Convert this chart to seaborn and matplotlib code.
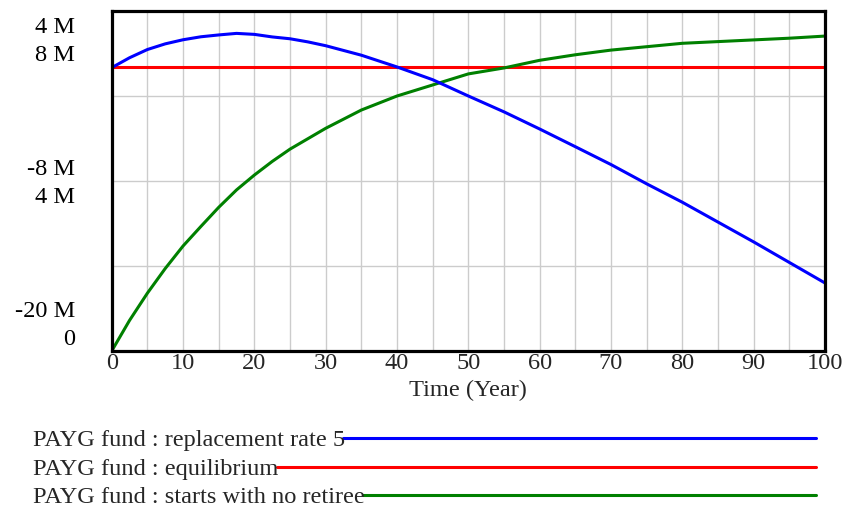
import numpy as np
import pandas as pd
import matplotlib
matplotlib.use("Agg")
import matplotlib.pyplot as plt
import seaborn as sns
from matplotlib.transforms import blended_transform_factory, offset_copy
from matplotlib.lines import Line2D

# ---------------- data ----------------
years_blue = [0, 2.5, 5, 7.5, 10, 12.5, 15, 17.5, 20, 22.5, 25, 27.5, 30, 35,
              40, 45, 50, 55, 60, 65, 70, 75, 80, 85, 90, 95, 100]
fund_replacement = [0.0, 0.70, 1.28, 1.68, 1.97, 2.18, 2.31, 2.42, 2.35, 2.17,
                    2.04, 1.82, 1.55, 0.88, 0.05, -0.85, -2.0, -3.12, -4.33,
                    -5.58, -6.84, -8.2, -9.5, -10.9, -12.3, -13.75, -15.2]   # M, scale 1

years_red = [0, 100]
fund_equilibrium = [6.68, 6.68]                                               # M, scale 2

years_green = [0, 2.5, 5, 7.5, 10, 12.5, 15, 17.5, 20, 22.5, 25, 30, 35, 40,
               45, 50, 55, 60, 65, 70, 75, 80, 85, 90, 95, 100]
fund_no_retiree = [0.0, 0.72, 1.36, 1.94, 2.47, 2.93, 3.38, 3.79, 4.14, 4.46,
                   4.75, 5.24, 5.67, 6.0, 6.26, 6.52, 6.66, 6.84, 6.97, 7.08,
                   7.16, 7.24, 7.28, 7.32, 7.36, 7.41]                        # M, scale 2

scale1_ticks = [4, -8, -20]
scale1_labels = ["4 M", "-8 M", "-20 M"]
scale2_ticks = [8, 4, 0]
scale2_labels = ["8 M", "4 M", "0"]
x_ticks = list(range(0, 101, 10))
x_label = "Time (Year)"
legend_labels = ["PAYG fund : replacement rate 5",
                 "PAYG fund : equilibrium",
                 "PAYG fund : starts with no retiree"]
colors = ["#0000ff", "#ff0000", "#008000"]

# ---------------- style ----------------
sns.set_style("white")
plt.rcParams["font.family"] = ["Liberation Serif", "DejaVu Serif"]
FS = 17.6

W, H = 844, 508
fig = plt.figure(figsize=(W / 100, H / 100), dpi=100)
L, R, T, B = 111.7, 825.0, 11.0, 351.0
rect = [L / W, 1 - B / H, (R - L) / W, (B - T) / H]

ax_g = fig.add_axes(rect)          # scale 2 (red / green) + grid
ax_b = fig.add_axes(rect)          # scale 1 (blue) on top
ax_b.patch.set_visible(False)

# scale 2 axes
df_red = pd.DataFrame({"t": years_red, "v": fund_equilibrium})
df_green = pd.DataFrame({"t": years_green, "v": fund_no_retiree})
sns.lineplot(data=df_red, x="t", y="v", ax=ax_g, color=colors[1], lw=2.2)
sns.lineplot(data=df_green, x="t", y="v", ax=ax_g, color=colors[2], lw=2.2)
ax_g.set_xlim(0, 100)
ax_g.set_ylim(0, 8)
ax_g.set_xticks(np.arange(0, 101, 5))
ax_g.set_yticks([0, 2, 4, 6, 8])
ax_g.grid(True, color="#cccccc", lw=1.0)
ax_g.tick_params(length=0, labelbottom=False, labelleft=False)
ax_g.set_xlabel("")
ax_g.set_ylabel("")
for s in ax_g.spines.values():
    s.set_visible(False)

# scale 1 axes
df_blue = pd.DataFrame({"t": years_blue, "v": fund_replacement})
sns.lineplot(data=df_blue, x="t", y="v", ax=ax_b, color=colors[0], lw=2.2)
ax_b.set_xlim(0, 100)
ax_b.set_ylim(-20, 4)
ax_b.set_xticks(x_ticks)
ax_b.set_xticklabels([str(v) for v in x_ticks], fontsize=FS)
ax_b.set_yticks([])
ax_b.tick_params(axis="x", length=0, pad=1.5)
ax_b.set_xlabel(x_label, fontsize=FS, labelpad=4.5)
ax_b.set_ylabel("")
ax_b.grid(False)
for s in ax_b.spines.values():
    s.set_visible(True)
    s.set_color("black")
    s.set_linewidth(2.3)

# stacked y labels (Vensim style: scale-1 label above, scale-2 label below)
base_off = [-6, 22]   # px below gridline for baseline (scale1, scale2)
def place(axis, val, txt, dy):
    tr = offset_copy(blended_transform_factory(axis.transAxes, axis.transData),
                     fig=fig, x=-36.7, y=-dy, units="dots")
    axis.text(0, val, txt, transform=tr, ha="right", va="baseline",
              fontsize=FS, clip_on=False, color="black")

for i in range(3):
    shift = 28 if i == 0 else (-28 if i == 2 else 0)
    place(ax_b, scale1_ticks[i], scale1_labels[i], base_off[0] + shift)
    place(ax_g, scale2_ticks[i], scale2_labels[i], base_off[1] + shift)

# legend rows
baselines = [446, 475, 503]
line_end = 816
texts = []
for lab, yb in zip(legend_labels, baselines):
    texts.append(fig.text(33.3 / W, 1 - yb / H, lab, fontsize=FS,
                          va="baseline", ha="left"))
fig.canvas.draw()
renderer = fig.canvas.get_renderer()
for t, c, yb in zip(texts, colors, baselines):
    bb = t.get_window_extent(renderer)
    x0 = bb.x1 - 2
    yl = yb - 8.5
    fig.add_artist(Line2D([x0 / W, line_end / W], [1 - yl / H, 1 - yl / H],
                          transform=fig.transFigure, color=c, lw=2.2,
                          solid_capstyle="round"))

fig.savefig("out.png", dpi=100, facecolor="white")
